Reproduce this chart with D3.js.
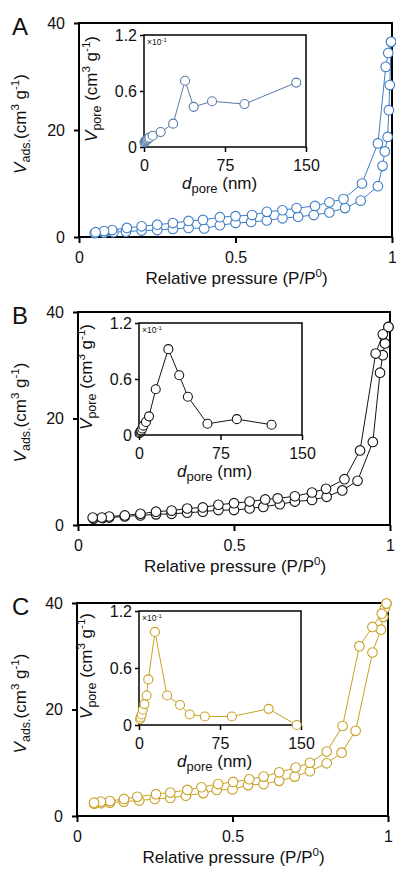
<!DOCTYPE html>
<html><head><meta charset="utf-8">
<script src="https://cdn.jsdelivr.net/npm/d3@7"></script>
<style>
body{margin:0;background:#fff}
text{font-family:"Liberation Sans",Arial,Helvetica,sans-serif;fill:#111}
</style>
</head><body>
<svg id="chart" width="396" height="869"></svg>
<script>
// ---------- DATA ----------
const panelLabels = ["A", "B", "C"];
const mainXTicks = [0, 0.5, 1];
const mainXTickLabels = ["0", "0.5", "1"];
const mainYTicks = [0, 20, 40];
const insetXTicks = [0, 75, 150];
const insetYTicks = [0, 0.6, 1.2];
const insetYTickLabels = ["0", "0.6", "1.2"];

// Panel A isotherm
const aAdsP = [0.05,0.08,0.11,0.15,0.2,0.25,0.3,0.35,0.4,0.45,0.5,0.55,0.6,0.65,0.7,0.75,0.8,0.85,0.9,0.955,0.97,0.977,0.986,0.99,0.993,0.997];
const aAdsV = [0.7,0.8,0.9,1.0,1.2,1.3,1.5,1.7,1.6,2.2,2.6,2.8,3.1,3.5,3.8,4.1,4.6,5.4,6.8,9.5,13.3,16.0,18.7,23.7,28.4,36.5];
const aDesP = [0.997,0.988,0.98,0.955,0.904,0.845,0.8,0.754,0.695,0.65,0.6,0.553,0.5,0.45,0.396,0.35,0.3,0.25,0.2,0.153,0.106,0.08,0.053];
const aDesV = [36.5,34.4,31.8,17.5,10.0,7.1,6.5,5.8,5.4,5.0,4.7,4.1,3.9,3.7,3.2,3.0,2.6,2.3,2.0,1.7,1.3,1.1,0.9];
// Panel A pore size distribution
const aPoreD = [0.5,1,1.5,2,2.5,3,4,5,8,15.4,27,38,46,63,93,141];
const aPoreV = [0.05,0.06,0.07,0.07,0.08,0.08,0.09,0.1,0.12,0.16,0.25,0.71,0.43,0.49,0.46,0.69];

// Panel B isotherm
const bAdsP = [0.05,0.08,0.1,0.15,0.2,0.25,0.3,0.35,0.4,0.45,0.5,0.55,0.594,0.647,0.695,0.75,0.797,0.847,0.896,0.945,0.968,0.977,0.984,0.995];
const bAdsV = [1.2,1.3,1.4,1.6,1.8,2.0,2.1,2.3,2.5,2.8,2.8,3.1,3.4,3.9,4.4,4.7,5.3,6.5,8.3,15.6,28.6,31.9,34.1,37.2];
const bDesP = [0.995,0.977,0.954,0.904,0.854,0.795,0.75,0.695,0.64,0.6,0.55,0.5,0.45,0.4,0.35,0.3,0.25,0.2,0.15,0.1,0.076,0.047];
const bDesV = [37.2,35.8,32.2,14.0,8.6,6.8,6.1,5.4,5.0,4.8,4.4,4.1,3.8,3.3,3.1,2.7,2.5,2.1,1.8,1.6,1.4,1.4];
// Panel B pore size distribution
const bPoreD = [0.5,1,1.5,2,3,4,6.4,9.2,15.4,27,37,45,63,90,122];
const bPoreV = [0.02,0.03,0.04,0.05,0.07,0.1,0.14,0.2,0.49,0.92,0.64,0.41,0.12,0.17,0.11];

// Panel C isotherm
const cAdsP = [0.055,0.077,0.106,0.15,0.2,0.25,0.3,0.35,0.406,0.449,0.5,0.55,0.6,0.65,0.7,0.749,0.803,0.851,0.896,0.95,0.977,0.985,0.99,0.995];
const cAdsV = [2.3,2.4,2.5,2.7,2.9,3.2,3.4,3.8,4.3,4.9,5.0,5.8,6.0,6.6,7.4,8.4,9.9,11.9,16.0,30.7,35.0,37.4,39.0,39.9];
const cDesP = [0.995,0.98,0.95,0.908,0.854,0.803,0.749,0.703,0.65,0.6,0.554,0.502,0.454,0.4,0.355,0.3,0.254,0.194,0.151,0.106,0.077,0.055];
const cDesV = [39.9,38.0,35.5,31.9,16.9,12.1,10.0,9.1,8.2,7.4,6.9,6.4,6.0,5.4,4.9,4.4,4.1,3.6,3.2,2.8,2.7,2.5];
// Panel C pore size distribution
const cPoreD = [1,1.5,2.5,3.5,5,7,8.6,14.8,26,38,47,61,86,120,146];
const cPoreV = [0.06,0.08,0.11,0.16,0.22,0.31,0.48,0.98,0.31,0.21,0.11,0.09,0.09,0.17,0.0];

// ---------- LAYOUT / STYLE ----------
const panels = [
  {label:panelLabels[0], color:"#3f7ec6", insetColor:"#5a7ba6",
   main:{l:79,r:392,t:23,b:237}, inset:{l:144,r:306,t:35,b:147},
   ads:[aAdsP,aAdsV], des:[aDesP,aDesV], pore:[aPoreD,aPoreV]},
  {label:panelLabels[1], color:"#151515", insetColor:"#151515",
   main:{l:78,r:390,t:312,b:525}, inset:{l:139,r:302,t:323,b:435},
   ads:[bAdsP,bAdsV], des:[bDesP,bDesV], pore:[bPoreD,bPoreV]},
  {label:panelLabels[2], color:"#c9a024", insetColor:"#c9a024",
   main:{l:77,r:388,t:603,b:816}, inset:{l:139,r:301,t:611,b:725},
   ads:[cAdsP,cAdsV], des:[cDesP,cDesV], pore:[cPoreD,cPoreV]}
];

const FONT = "Liberation Sans, Arial, sans-serif";
const svg = d3.select("#chart");

function series(g, xs, ys, x, y, color, r) {
  const pts = xs.map((d,i)=>[d, ys[i]]);
  g.append("path").datum(pts)
    .attr("fill","none").attr("stroke",color).attr("stroke-width",1)
    .attr("d", d3.line().x(d=>x(d[0])).y(d=>y(d[1])));
  g.selectAll(null).data(pts).enter().append("circle")
    .attr("cx",d=>x(d[0])).attr("cy",d=>y(d[1])).attr("r",r)
    .attr("fill","#fff").attr("stroke",color).attr("stroke-width",1.1);
}

function styleAxis(a, lw, fs) {
  a.select(".domain").remove();
  a.selectAll(".tick line").attr("stroke","#000").attr("stroke-width",lw);
  a.selectAll(".tick text").attr("font-size",fs).attr("font-family",FONT).attr("fill","#111");
}

panels.forEach(p => {
  const m = p.main, n = p.inset;
  const g = svg.append("g");
  const x = d3.scaleLinear().domain([0,1]).range([m.l,m.r]);
  const y = d3.scaleLinear().domain([0,40]).range([m.b,m.t]);

  // axes
  const ax = g.append("g").attr("transform",`translate(0,${m.b})`)
    .call(d3.axisBottom(x).tickValues(mainXTicks).tickSize(6).tickPadding(9)
      .tickFormat((d,i)=>mainXTickLabels[i]));
  const ay = g.append("g").attr("transform",`translate(${m.l},0)`)
    .call(d3.axisLeft(y).tickValues(mainYTicks).tickSize(5).tickPadding(9).tickFormat(d3.format("d")));
  styleAxis(ax, 2, 16); styleAxis(ay, 2, 16);
  g.append("rect").attr("x",m.l).attr("y",m.t).attr("width",m.r-m.l).attr("height",m.b-m.t)
    .attr("fill","none").attr("stroke","#000").attr("stroke-width",2);

  // isotherm series
  series(g, p.ads[0], p.ads[1], x, y, p.color, 4.8);
  series(g, p.des[0], p.des[1], x, y, p.color, 4.8);

  // panel letter
  g.append("text").attr("x",12).attr("y",m.t+12).attr("font-size",24).text(p.label);

  // main y label
  const yl = g.append("text").attr("transform",`translate(26,${(m.t+m.b)/2 - 6}) rotate(-90)`)
    .attr("text-anchor","middle").attr("font-size",17);
  yl.append("tspan").attr("font-style","italic").text("V");
  yl.append("tspan").attr("font-size",12.5).attr("dy",4).text("ads.");
  yl.append("tspan").attr("dy",-4).text("(cm");
  yl.append("tspan").attr("font-size",11.5).attr("dy",-7).text("3");
  yl.append("tspan").attr("dy",7).text(" g");
  yl.append("tspan").attr("font-size",11.5).attr("dy",-7).text("-1");
  yl.append("tspan").attr("dy",7).text(")");

  // main x label
  const xl = g.append("text").attr("x",(m.l+m.r)/2 + 1).attr("y",m.b+47)
    .attr("text-anchor","middle").attr("font-size",17);
  xl.append("tspan").text("Relative pressure (P/P");
  xl.append("tspan").attr("font-size",11.5).attr("dy",-7).text("0");
  xl.append("tspan").attr("dy",7).text(")");

  // ----- inset -----
  const ix = d3.scaleLinear().domain([0,150]).range([n.l,n.r]);
  const iy = d3.scaleLinear().domain([0,1.2]).range([n.b,n.t]);
  g.append("rect").attr("x",n.l).attr("y",n.t).attr("width",n.r-n.l).attr("height",n.b-n.t)
    .attr("fill","#fff").attr("stroke","none");
  const iax = g.append("g").attr("transform",`translate(0,${n.b})`)
    .call(d3.axisBottom(ix).tickValues(insetXTicks).tickSize(5).tickPadding(8).tickFormat(d3.format("d")));
  const iay = g.append("g").attr("transform",`translate(${n.l},0)`)
    .call(d3.axisLeft(iy).tickValues(insetYTicks).tickSize(4).tickPadding(3)
      .tickFormat((d,i)=>insetYTickLabels[i]));
  styleAxis(iax, 1.5, 16); styleAxis(iay, 1.5, 16);
  g.append("rect").attr("x",n.l).attr("y",n.t).attr("width",n.r-n.l).attr("height",n.b-n.t)
    .attr("fill","none").attr("stroke","#000").attr("stroke-width",1.5);

  series(g, p.pore[0], p.pore[1], ix, iy, p.insetColor, 4.5);

  // ×10^-1 note
  const note = g.append("text").attr("x",n.l+3).attr("y",n.t+10).attr("font-size",8.5);
  note.append("tspan").text("×10");
  note.append("tspan").attr("font-size",6).attr("dy",-3).text("-1");

  // inset y label
  const iyl = g.append("text").attr("transform",`translate(${n.l-47},${(n.t+n.b)/2 - 2}) rotate(-90)`)
    .attr("text-anchor","middle").attr("font-size",17);
  iyl.append("tspan").attr("font-style","italic").text("V");
  iyl.append("tspan").attr("font-size",12.5).attr("dy",4).text("pore");
  iyl.append("tspan").attr("dy",-4).text(" (cm");
  iyl.append("tspan").attr("font-size",11.5).attr("dy",-7).text("3");
  iyl.append("tspan").attr("dy",7).text(" g");
  iyl.append("tspan").attr("font-size",11.5).attr("dy",-7).text("-1");
  iyl.append("tspan").attr("dy",7).text(")");

  // inset x label
  const ixl = g.append("text").attr("x",n.l+38).attr("y",n.b+42)
    .attr("text-anchor","start").attr("font-size",17);
  ixl.append("tspan").attr("font-style","italic").text("d");
  ixl.append("tspan").attr("font-size",13).attr("dy",4).text("pore");
  ixl.append("tspan").attr("dy",-4).text(" (nm)");
});
</script>
</body></html>
